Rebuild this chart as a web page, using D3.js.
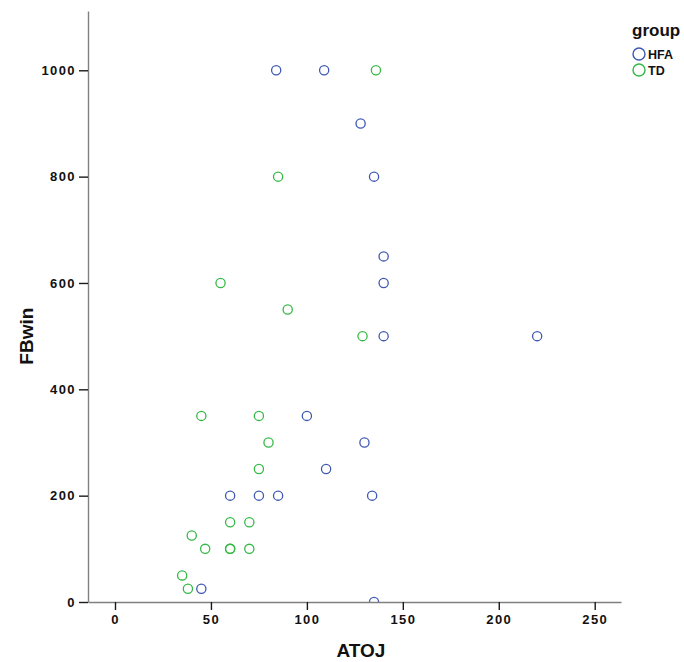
<!DOCTYPE html>
<html>
<head>
<meta charset="utf-8">
<script src="https://cdn.jsdelivr.net/npm/d3@7"></script>
<style>
  body { margin: 0; background: #fff; }
  text { font-family: Arial, "Liberation Sans", sans-serif; fill: #111; }
</style>
</head>
<body>
<div id="chart"></div>
<script>
// scatter of FBwin against ATOJ by group

const groups = ['HFA', 'TD'];
const groupColors = ['#3E58B4', '#35B945'];

const hfaATOJ  = [84, 109, 128, 135, 140, 140, 140, 220, 100, 130, 110, 60, 75, 85, 134, 45, 135];
const hfaFBwin = [1000, 1000, 900, 800, 650, 600, 500, 500, 350, 300, 250, 200, 200, 200, 200, 25, 0];

const tdATOJ  = [136, 85, 55, 90, 129, 45, 75, 80, 75, 60, 70, 40, 47, 60, 60, 70, 35, 38];
const tdFBwin = [1000, 800, 600, 550, 500, 350, 350, 300, 250, 150, 150, 125, 100, 100, 100, 100, 50, 25];

const xTicks = [0, 50, 100, 150, 200, 250];
const yTicks = [0, 200, 400, 600, 800, 1000];

const width = 684;
const height = 662;
const margin = {top: 11, right: 63, bottom: 60, left: 88};

const svg = d3.select('#chart')
  .append('svg')
    .attr('width', width)
    .attr('height', height);

const x = d3.scaleLinear()
    .domain([-14.07, 263.7])
    .range([margin.left, width - margin.right]);

const y = d3.scaleLinear()
    .domain([0, 1111.5])
    .range([height - margin.bottom, margin.top]);

const color = d3.scaleOrdinal()
    .domain(groups)
    .range(groupColors);

const points = [
  ...hfaATOJ.map((v, i) => ({group: 'HFA', x: v, y: hfaFBwin[i]})),
  ...tdATOJ.map((v, i) => ({group: 'TD', x: v, y: tdFBwin[i]}))
];

// clip so points sitting on the axis show only their upper half
svg.append('clipPath')
    .attr('id', 'plot-clip')
  .append('rect')
    .attr('x', margin.left)
    .attr('y', 0)
    .attr('width', width - margin.right - margin.left + 5)
    .attr('height', y(0));

svg.append('g')
    .attr('clip-path', 'url(#plot-clip)')
  .selectAll('circle')
  .data(points)
  .join('circle')
    .attr('cx', d => x(d.x))
    .attr('cy', d => y(d.y))
    .attr('r', 4.6)
    .attr('fill', 'none')
    .attr('stroke', d => color(d.group))
    .attr('stroke-width', 1.3);

// axes
const xAxis = svg.append('g')
    .attr('transform', `translate(0,${y(0)})`)
    .call(d3.axisBottom(x).tickValues(xTicks).tickFormat(d3.format('d'))
      .tickSizeInner(8).tickSizeOuter(0).tickPadding(5));

const yAxis = svg.append('g')
    .attr('transform', `translate(${margin.left},0)`)
    .call(d3.axisLeft(y).tickValues(yTicks).tickFormat(d3.format('d'))
      .tickSizeInner(9).tickSizeOuter(0).tickPadding(3));

[xAxis, yAxis].forEach(a => {
  a.select('.domain')
      .attr('stroke', '#808080')
      .attr('stroke-width', 1.4);
  a.selectAll('.tick line')
      .attr('stroke', '#1a1a1a')
      .attr('stroke-width', 1.4);
  a.selectAll('.tick text')
      .attr('font-family', 'Arial, "Liberation Sans", sans-serif')
      .attr('font-size', 13)
      .attr('font-weight', 'bold')
      .attr('letter-spacing', '1.4px')
      .attr('fill', '#111');
});

// axis titles
svg.append('text')
    .attr('x', x(0) + (x(250) - x(0)) / 2 + 6)
    .attr('y', 657)
    .attr('text-anchor', 'middle')
    .attr('font-size', 19)
    .attr('font-weight', 'bold')
    .text('ATOJ');

svg.append('text')
    .attr('transform', `translate(33,${(y(0) + y(1000)) / 2}) rotate(-90)`)
    .attr('text-anchor', 'middle')
    .attr('font-size', 19)
    .attr('font-weight', 'bold')
    .text('FBwin');

// legend
const legend = svg.append('g')
    .attr('transform', 'translate(632,36)');

legend.append('text')
    .attr('x', 0)
    .attr('y', 0)
    .attr('font-size', 17)
    .attr('font-weight', 'bold')
    .text('group');

const item = legend.selectAll('.item')
  .data(groups)
  .join('g')
    .attr('class', 'item')
    .attr('transform', (d, i) => `translate(0,${18 + i * 16})`);

item.append('circle')
    .attr('cx', 7)
    .attr('cy', 0)
    .attr('r', 6)
    .attr('fill', 'none')
    .attr('stroke', d => color(d))
    .attr('stroke-width', 1.4);

item.append('text')
    .attr('x', 16)
    .attr('y', 4.5)
    .attr('font-size', 12.5)
    .attr('font-weight', 'bold')
    .text(d => d);
</script>
</body>
</html>
